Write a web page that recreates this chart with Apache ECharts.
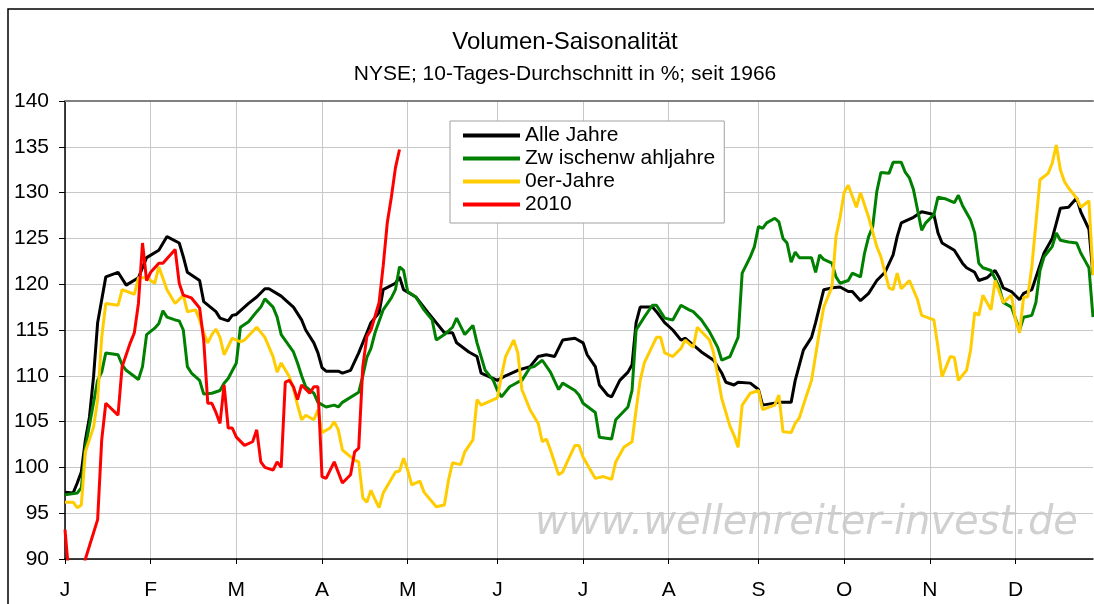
<!DOCTYPE html>
<html>
<head>
<meta charset="utf-8">
<script src="https://cdn.jsdelivr.net/npm/echarts@6/dist/echarts.min.js"></script>
<style>
  html, body { margin: 0; padding: 0; background: #fff; overflow: hidden; }
  #chart { width: 1094px; height: 604px; }
</style>
</head>
<body>
<div id="chart"></div>
<script>
// x = trading day of the year (0..252), y = volume in % of the average
const monthLabels = ["J", "F", "M", "A", "M", "J", "J", "A", "S", "O", "N", "D"];
const monthStarts = [0, 21, 42, 63, 84, 106, 127, 148, 170, 191, 212, 233];
const tradingDays = 253;
const yTicks = [90, 95, 100, 105, 110, 115, 120, 125, 130, 135, 140];

const alleJahre = [[0,97.3],[2,97.2],[3,98.3],[4,99.5],[5,103],[6,105.5],[7,109.9],[8,115.8],[10,120.8],[13,121.3],[15,119.9],[18,120.7],[20,122.9],[23,123.7],[25,125.2],[28,124.5],[29,123],[30,121.3],[33,120.4],[34,118.1],[37,117],[38,116.3],[40,116],[41,116.6],[42,116.7],[45,117.9],[47,118.6],[49,119.5],[50,119.5],[53,118.7],[54,118.3],[56,117.5],[58,116.1],[59,115],[61,113.6],[62,112.5],[63,110.9],[64,110.5],[67,110.5],[68,110.3],[70,110.6],[72,112.5],[74,114.7],[75,115.8],[77,116.9],[78,119.4],[81,120.1],[82,120.8],[83,119.4],[86,118.6],[89,116.9],[91,115.8],[93,114.7],[95,114.7],[96,113.6],[99,112.6],[101,112.1],[102,110.3],[106,109.5],[108,110],[111,110.6],[114,111],[116,112.1],[118,112.3],[120,112.1],[122,113.9],[125,114.1],[127,113.6],[128,112.3],[130,111],[131,109],[133,107.9],[134,107.7],[136,109.5],[138,110.4],[139,111.2],[140,115.8],[141,117.5],[144,117.5],[145,117],[147,115.8],[149,115],[151,113.9],[152,114.1],[155,113],[156,112.6],[159,111.7],[161,110.3],[162,109.3],[164,109],[165,109.3],[168,109.2],[170,108.5],[171,106.8],[175,107.1],[178,107.1],[179,109.5],[181,112.8],[183,114.2],[184,115.8],[186,119.4],[188,119.6],[190,119.7],[192,119.2],[193,119.2],[195,118.2],[197,119],[199,120.4],[201,121.3],[203,123.2],[204,125.2],[205,126.7],[208,127.3],[210,127.9],[213,127.6],[214,125.6],[215,124.5],[218,123.7],[220,122.3],[221,121.8],[223,121.3],[224,120.4],[226,120.7],[228,121.5],[229,120.7],[230,119.6],[232,119.2],[234,118.3],[235,119],[237,119.4],[240,123.4],[242,125],[244,128.3],[246,128.4],[248,129.4],[249,127.9],[251,126],[252,121]];

const zwischenwahljahre = [[0,97],[3,97.2],[4,97.8],[5,102.2],[8,109.5],[9,110.4],[10,112.5],[13,112.3],[14,111.2],[15,110.6],[18,109.6],[19,111],[20,114.5],[22,115.2],[23,115.7],[24,117.1],[25,116.4],[27,116.1],[28,116],[29,115],[30,111],[31,110.3],[33,109.5],[34,108],[36,108.1],[38,108.4],[39,109.2],[40,109.7],[42,111.4],[43,115.3],[45,115.9],[47,117],[48,117.5],[49,118.4],[51,117.5],[52,116.4],[53,114.5],[56,112.6],[57,111.4],[58,110],[59,108.8],[61,108.1],[62,107.1],[64,106.6],[66,106.8],[67,106.6],[68,107.1],[72,108.2],[73,110],[74,112],[75,113],[76,114.7],[78,117.2],[80,118.5],[81,119.4],[82,121.9],[83,121.5],[84,119.2],[86,118.6],[88,117.2],[90,116.1],[91,113.9],[93,114.5],[95,115.3],[96,116.3],[98,114.5],[100,115.5],[101,113.6],[103,110.6],[105,109.5],[106,108.4],[107,107.7],[109,108.8],[111,109.3],[112,109.5],[114,110.9],[115,111],[117,111.7],[119,110.4],[121,108.5],[122,109.2],[125,108.4],[126,107.9],[127,107],[130,106],[131,103.3],[134,103.1],[135,105.2],[138,106.6],[139,108.4],[140,115],[142,116.4],[144,117.7],[145,117.7],[147,116.3],[149,116.1],[150,116.9],[151,117.7],[153,117.2],[154,117],[156,116.1],[158,114.8],[160,113.1],[161,111.7],[163,112.1],[165,114.2],[166,121.2],[168,123],[169,124.1],[170,126.3],[171,126.1],[172,126.7],[174,127.2],[175,126.8],[176,125],[177,124.5],[178,122.4],[179,123.5],[180,122.9],[183,122.9],[184,121.3],[185,123.2],[186,122.7],[188,122.3],[189,120.8],[190,120.1],[192,120.4],[193,121.2],[195,120.8],[196,123.4],[197,125.2],[198,126.3],[199,130.1],[200,132.2],[202,132.1],[203,133.3],[205,133.3],[206,132.2],[207,131.6],[208,130.3],[209,128.1],[210,125.9],[211,126.7],[213,127.6],[214,129.5],[216,129.3],[218,128.9],[219,129.7],[220,128.6],[222,127],[223,125.6],[224,122.3],[225,121.8],[227,121.5],[229,119.7],[230,118],[232,117.5],[234,115],[235,116.4],[237,116.6],[238,118],[239,121.5],[240,123],[242,124.1],[243,125.6],[244,124.8],[246,124.6],[248,124.5],[249,123.4],[250,122.6],[251,121.8],[252,116.4]];

const nullerJahre = [[0,96.2],[2,96.2],[3,95.6],[4,95.9],[5,101.7],[7,104.4],[8,107.4],[9,114.2],[10,117.9],[13,117.7],[14,119.4],[17,118.9],[18,120.7],[20,120.7],[22,120.1],[23,121.9],[25,119.4],[27,117.9],[29,118.8],[30,117],[32,117.2],[33,116.1],[34,114.7],[35,113.6],[36,114.5],[37,115.1],[38,114.2],[39,112.3],[41,114.1],[43,113.7],[44,113.9],[47,115.3],[49,114.2],[51,112.1],[52,110.4],[53,111.4],[55,109.9],[56,108.6],[57,106.8],[58,105.2],[59,105.7],[61,105.2],[62,106.3],[63,103.8],[65,104.3],[66,105],[67,104.1],[68,101.9],[71,100.8],[72,100.6],[73,96.7],[74,96.2],[75,97.5],[76,96.5],[77,95.6],[78,97.2],[81,99.5],[82,99.6],[83,101],[84,99.7],[85,98.1],[87,98.5],[88,97.3],[91,95.7],[93,95.9],[94,98.6],[95,100.5],[97,100.3],[98,101.7],[100,103],[101,107.4],[102,106.8],[106,107.6],[107,110],[108,112.1],[110,113.9],[111,112.5],[112,108.5],[114,106.3],[116,104.8],[117,102.8],[118,103.1],[119,101.9],[121,99.2],[122,99.5],[123,100.5],[125,102.4],[126,102.4],[127,101.1],[130,98.8],[132,99],[134,98.7],[135,100.6],[137,102.2],[139,102.8],[140,106.3],[141,109.5],[142,111.4],[145,114.2],[146,114.2],[147,112.5],[149,112.1],[151,113],[152,113.9],[154,113.1],[155,115.3],[158,113.9],[159,112.5],[160,110],[161,107.5],[162,106],[163,104.5],[164,103.5],[165,102.2],[166,106.8],[168,108.1],[170,108.4],[171,106.3],[174,106.8],[175,107.9],[176,103.9],[178,103.8],[179,104.8],[180,105.4],[181,106.8],[183,109.5],[185,115],[186,117.5],[188,119.7],[189,125.2],[190,127.3],[191,130],[192,130.8],[194,128.4],[195,130],[197,127.3],[199,124.1],[200,123],[201,121.3],[202,119.6],[203,119.4],[204,121.2],[205,119.5],[207,120.4],[209,118.3],[210,116.6],[213,116.1],[214,113.1],[215,109.9],[217,112.1],[218,112],[219,109.5],[221,110.6],[222,112.8],[223,116.9],[224,116.6],[225,118.8],[227,117.2],[228,120.4],[230,118],[232,118.8],[233,116.1],[234,114.7],[235,118.6],[236,118.6],[237,121.9],[239,131.4],[241,132.1],[242,133.2],[243,135.2],[244,132.5],[245,131.2],[246,130.5],[248,129.4],[249,128.4],[251,129.1],[252,121]];

const jahr2010 = [[0,93.2],[1,88],[3,86],[5,90],[8,94.3],[9,103],[10,107],[13,105.7],[14,111],[16,113.6],[17,114.7],[18,117.9],[19,124.5],[20,120.4],[21,121.3],[23,122.3],[24,122.3],[27,123.8],[28,120.1],[29,118.8],[31,118.5],[33,117.4],[34,113.9],[35,107],[36,107],[37,106],[38,104.8],[39,109],[40,104.3],[41,104.3],[42,103.3],[44,102.4],[46,102.8],[47,104.1],[48,100.6],[49,100],[51,99.7],[52,100.6],[53,100],[54,109.3],[55,109.5],[56,108.8],[57,107.4],[58,109],[60,108.1],[61,108.8],[62,108.8],[63,99],[64,98.8],[66,100.6],[68,98.3],[70,99.2],[71,101.7],[72,102.1],[73,111],[74,114.3],[75,115],[76,116.5],[77,118],[78,122],[79,126.7],[80,129.5],[81,132.7],[82,134.7]];

const seriesNames = ["Alle Jahre", "Zw ischenw ahljahre", "0er-Jahre", "2010"];
const seriesColors = ["#000000", "#008000", "#ffcc00", "#ff0000"];
const seriesData = [alleJahre, zwischenwahljahre, nullerJahre, jahr2010];

let days = [];
for (let i = 0; i < tradingDays; i++) days.push(String(i));

function isMonthStart(index) {
  return monthStarts.indexOf(index) !== -1;
}

const font = "'Liberation Sans', Arial, sans-serif";
let myChart = echarts.init(document.getElementById("chart"), null, { renderer: "canvas" });

let series = seriesData.map(function (d, i) {
  return {
    name: seriesNames[i],
    type: "line",
    data: d,
    symbol: "none",
    smooth: false,
    clip: true,
    color: seriesColors[i],
    lineStyle: { color: seriesColors[i], width: 3 },
    z: 3 + i
  };
});

let option = {
  animation: false,
  backgroundColor: "#fff",
  title: [
    {
      text: "Volumen-Saisonalität",
      left: 560,
      top: 25,
      textAlign: "center",
      textStyle: { fontFamily: font, fontSize: 24, fontWeight: "normal", color: "#000" }
    },
    {
      text: "NYSE; 10-Tages-Durchschnitt in %; seit 1966",
      left: 560,
      top: 59,
      textAlign: "center",
      textStyle: { fontFamily: font, fontSize: 21, fontWeight: "normal", color: "#000" }
    }
  ],
  legend: {
    orient: "vertical",
    left: 450,
    top: 121,
    padding: [4, 9, 8, 13],
    itemGap: 2,
    itemWidth: 57,
    itemHeight: 4,
    icon: "rect",
    selectedMode: false,
    backgroundColor: "#fff",
    borderColor: "#a0a0a0",
    borderWidth: 1,
    borderRadius: 0,
    textStyle: { fontFamily: font, fontSize: 21, color: "#000", lineHeight: 20 },
    data: seriesNames
  },
  grid: { left: 65, right: 1, top: 101, bottom: 45, containLabel: false },
  xAxis: [
    {
      type: "category",
      data: days,
      boundaryGap: false,
      axisLine: { lineStyle: { color: "#000", width: 1.5 } },
      axisTick: { interval: isMonthStart, length: 5, lineStyle: { color: "#000" } },
      axisLabel: {
        interval: isMonthStart,
        margin: 21,
        fontFamily: font,
        fontSize: 21,
        color: "#000",
        formatter: function (value) {
          return monthLabels[monthStarts.indexOf(Number(value))];
        }
      },
      splitLine: { show: true, interval: isMonthStart, lineStyle: { color: "#c8c8c8", width: 1 } }
    },
    {
      type: "category",
      data: days,
      position: "top",
      boundaryGap: false,
      axisLine: { show: true, lineStyle: { color: "#808080", width: 2 } },
      axisTick: { show: false },
      axisLabel: { show: false },
      splitLine: { show: false }
    }
  ],
  yAxis: {
    type: "value",
    min: yTicks[0],
    max: yTicks[yTicks.length - 1],
    interval: 5,
    axisLine: { show: true, lineStyle: { color: "#000", width: 1.5 } },
    axisTick: { show: true, inside: false, length: 6, lineStyle: { color: "#000" } },
    axisLabel: { margin: 16, fontFamily: font, fontSize: 21, color: "#000" },
    splitLine: { show: true, lineStyle: { color: "#c8c8c8", width: 1 } }
  },
  graphic: [
    {
      type: "polyline",
      shape: { points: [[1094, 9], [8, 9], [8, 604]] },
      style: { fill: null, stroke: "#000", lineWidth: 1.5 },
      silent: true,
      z: 100
    },
    {
      type: "text",
      left: 535,
      top: 504,
      silent: true,
      z: 0,
      style: {
        text: "www.wellenreiter-invest.de",
        font: "oblique 40px 'DejaVu Sans', sans-serif",
        fill: "#d0d0d0"
      }
    }
  ],
  series: series
};

if (option && typeof option === "object") {
  myChart.setOption(option);
}
window.addEventListener("resize", myChart.resize);
</script>
</body>
</html>
